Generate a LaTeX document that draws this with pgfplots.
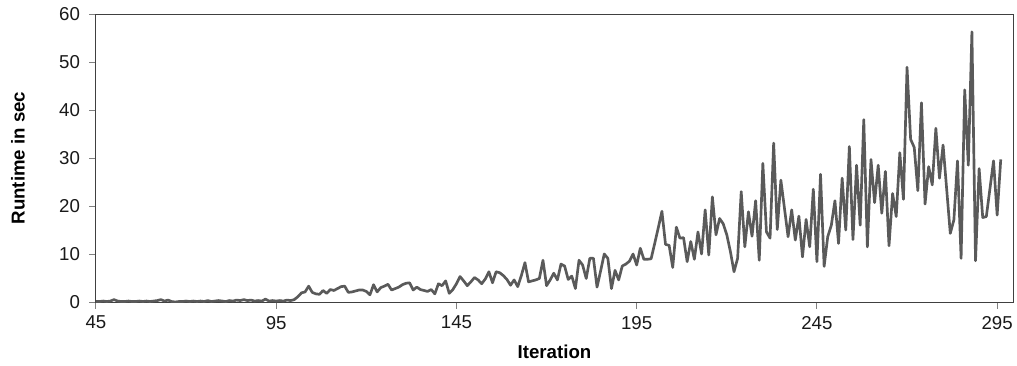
\documentclass[border=0pt]{standalone}
\usepackage{fontspec}
\setmainfont{Liberation Sans}
\usepackage{pgfplots}
\pgfplotsset{compat=1.18}
\usepackage{pgfplotstable}
\definecolor{linegray}{HTML}{5A5A5A}
\pgfplotstableread{
it rt
45 0.1
46 0.1
47 0.2
48 0.1
49 0.2
50 0.5
51 0.2
52 0.1
53 0.1
54 0.2
55 0.1
56 0.1
57 0.2
58 0.1
59 0.2
60 0.1
61 0.2
62 0.3
63 0.5
64 0.2
65 0.4
66 0.1
67 0.0
68 0.1
69 0.1
70 0.2
71 0.1
72 0.2
73 0.1
74 0.2
75 0.1
76 0.3
77 0.1
78 0.2
79 0.3
80 0.2
81 0.1
82 0.3
83 0.2
84 0.4
85 0.3
86 0.5
87 0.3
88 0.4
89 0.2
90 0.3
91 0.2
92 0.6
93 0.2
94 0.3
95 0.2
96 0.3
97 0.2
98 0.4
99 0.3
100 0.5
101 1.1
102 1.9
103 2.1
104 3.3
105 2.0
106 1.7
107 1.6
108 2.4
109 1.8
110 2.6
111 2.4
112 2.8
113 3.2
114 3.3
115 2.0
116 2.1
117 2.3
118 2.5
119 2.5
120 2.2
121 1.5
122 3.6
123 2.1
124 3.0
125 3.3
126 3.7
127 2.5
128 2.8
129 3.1
130 3.6
131 3.9
132 4.0
133 2.5
134 3.1
135 2.6
136 2.4
137 2.2
138 2.6
139 1.7
140 3.8
141 3.4
142 4.4
143 1.8
144 2.6
145 3.8
146 5.3
147 4.4
148 3.4
149 4.2
150 5.1
151 4.6
152 3.8
153 4.8
154 6.3
155 4.0
156 6.3
157 6.1
158 5.5
159 4.7
160 3.5
161 4.6
162 3.2
163 5.5
164 8.2
165 4.2
166 4.4
167 4.6
168 4.9
169 8.7
170 3.4
171 4.6
172 6.0
173 4.6
174 7.9
175 7.5
176 4.7
177 5.4
178 2.8
179 8.7
180 7.7
181 4.9
182 9.1
183 9.1
184 3.1
185 6.5
186 10.0
187 9.1
188 2.8
189 6.6
190 4.6
191 7.5
192 7.9
193 8.5
194 10.0
195 7.7
196 11.2
197 8.9
198 8.9
199 9.0
200 12.2
201 15.5
202 18.9
203 12.0
204 11.8
205 7.2
206 15.6
207 13.3
208 13.4
209 8.4
210 12.6
211 8.9
212 14.6
213 10.0
214 19.2
215 9.8
216 21.9
217 14.0
218 17.4
219 16.3
220 14.0
221 10.5
222 6.3
223 9.1
224 23.0
225 11.5
226 18.8
227 13.7
228 21.1
229 8.7
230 28.9
231 14.6
232 13.3
233 33.1
234 15.1
235 25.4
236 19.5
237 13.6
238 19.2
239 12.9
240 17.9
241 9.4
242 17.2
243 11.5
244 23.5
245 8.4
246 26.6
247 7.4
248 13.6
249 16.0
250 21.1
251 12.2
252 25.8
253 15.0
254 32.4
255 13.0
256 28.5
257 16.0
258 38.0
259 11.5
260 29.7
261 20.7
262 28.5
263 18.5
264 27.2
265 11.7
266 22.6
267 17.8
268 31.1
269 21.4
270 48.9
271 33.9
272 32.2
273 23.2
274 41.5
275 20.4
276 28.2
277 24.4
278 36.2
279 25.8
280 32.7
281 23.5
282 14.3
283 17.1
284 29.4
285 9.1
286 44.2
287 28.5
288 56.3
289 8.6
290 27.8
291 17.6
292 17.8
293 23.6
294 29.4
295 18.1
296 29.7
}\datatable
\begin{document}
\begin{tikzpicture}
\useasboundingbox (-72pt,-47.25pt) rectangle (690.75pt,226.5pt);
\begin{axis}[
  at={(0,0)}, anchor=south west,
  scale only axis, width=687.75pt, height=216pt,
  xmin=45, xmax=299.4, ymin=0, ymax=60,
  xtick={45,95,145,195,245,295},
  ytick={0,10,20,30,40,50,60},
  tick pos=left,
  tick align=outside,
  major tick length=5pt,
  axis line style={black!75, line width=0.75pt},
  tick style={black!50, line width=0.75pt},
  ticklabel style={font=\fontsize{14}{16}\selectfont, text=black!90},
  xticklabel style={yshift=-2pt},
  yticklabel style={xshift=-3.5pt},
  /pgf/number format/assume math mode=true,
  xlabel={Iteration},
  ylabel={Runtime in sec},
  xlabel style={font=\fontsize{14}{16}\selectfont\bfseries, at={(axis description cs:0.5,0)}, anchor=center, yshift=-37.5pt},
  ylabel style={font=\fontsize{14}{16}\selectfont\bfseries, at={(axis description cs:0,0.5)}, anchor=center, yshift=58.5pt},
]
\addplot[color=linegray, line width=2pt, line join=round, mark=none] table[x=it,y=rt]{\datatable};
\end{axis}
\end{tikzpicture}
\end{document}
